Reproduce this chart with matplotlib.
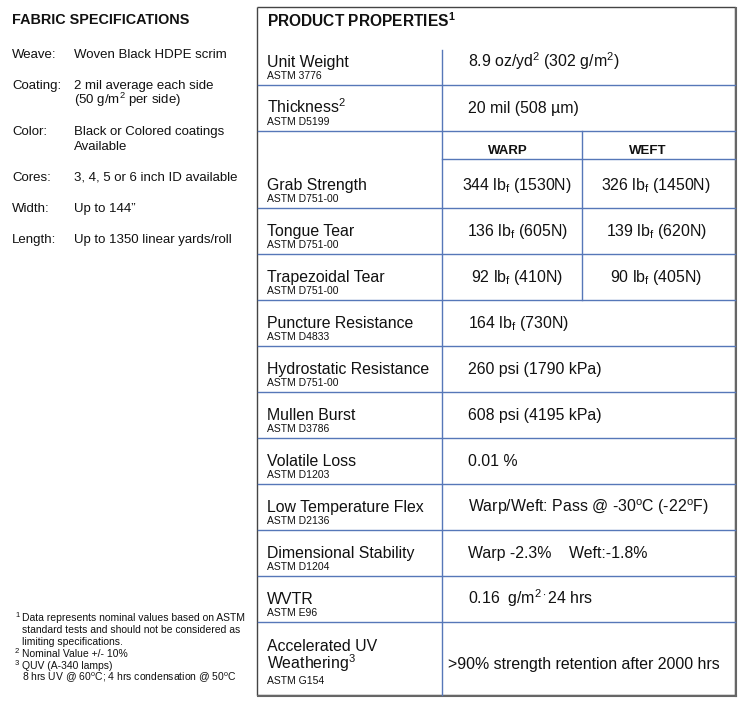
import matplotlib
matplotlib.use('Agg')
import matplotlib.pyplot as plt

# spec sheet: fabric specs on the left, product properties table on the right

plt.rcParams['font.family'] = ['Liberation Sans', 'DejaVu Sans']
plt.rcParams['mathtext.fontset'] = 'custom'
plt.rcParams['mathtext.rm'] = 'Liberation Sans'
plt.rcParams['mathtext.it'] = 'Liberation Sans:italic'
plt.rcParams['mathtext.bf'] = 'Liberation Sans:bold'

spec_labels = ["Weave:", "Coating:", "Color:", "Cores:", "Width:", "Length:"]
spec_values = [["Woven Black HDPE scrim"],
               ["2 mil average each side", "(50 g/m$^2$ per side)"],
               ["Black or Colored coatings", "Available"],
               ["3, 4, 5 or 6 inch ID available"],
               ["Up to 144\u201d"],
               ["Up to 1350 linear yards/roll"]]

footnote_marks = ["1", "", "", "2", "3", ""]
footnote_lines = ["Data represents nominal values based on ASTM",
                  "standard tests and should not be considered as",
                  "limiting specifications.",
                  "Nominal Value +/- 10%",
                  "QUV (A-340 lamps)",
                  r"8 hrs UV @ 60$^\mathrm{o}$C; 4 hrs condensation @ 50$^\mathrm{o}$C"]

prop_names = [["Unit Weight"], ["Thickness$^2$"], ["Grab Strength"], ["Tongue Tear"],
              ["Trapezoidal Tear"], ["Puncture Resistance"], ["Hydrostatic Resistance"],
              ["Mullen Burst"], ["Volatile Loss"], ["Low Temperature Flex"],
              ["Dimensional Stability"], ["WVTR"], ["Accelerated UV", "Weathering$^3$"]]
prop_methods = ["ASTM 3776", "ASTM D5199", "ASTM D751-00", "ASTM D751-00", "ASTM D751-00",
                "ASTM D4833", "ASTM D751-00", "ASTM D3786", "ASTM D1203", "ASTM D2136",
                "ASTM D1204", "ASTM E96", "ASTM G154"]
warp_values = {2: r"344 lb$_\mathrm{f}$ (1530N)", 3: r"136 lb$_\mathrm{f}$ (605N)",
               4: r"92 lb$_\mathrm{f}$ (410N)"}
weft_values = {2: r"326 lb$_\mathrm{f}$ (1450N)", 3: r"139 lb$_\mathrm{f}$ (620N)",
               4: r"90 lb$_\mathrm{f}$ (405N)"}
single_values = {0: "8.9 oz/yd$^2$ (302 g/m$^2$)",
                 1: "20 mil (508 \u00b5m)",
                 5: r"164 lb$_\mathrm{f}$ (730N)",
                 6: "260 psi (1790 kPa)",
                 7: "608 psi (4195 kPa)",
                 8: "0.01 %",
                 9: r"Warp/Weft: Pass @ -30$^\mathrm{o}$C (-22$^\mathrm{o}$F)",
                 10: "Warp -2.3%    Weft:-1.8%",
                 11: r"0.16  g/m$^{2\cdot}$24 hrs",
                 12: ">90% strength retention after 2000 hrs"}

# row bottoms (px) of the properties table
row_bottoms = [85, 131, 208, 254, 300, 346, 392, 438, 484, 530, 576, 622, 695]

BLUE = '#5677b8'
INK = '#111111'

fig = plt.figure(figsize=(7.46, 7.06), dpi=100)
ax = fig.add_axes([0, 0, 1, 1])
ax.set_xlim(0, 746)
ax.set_ylim(706, 0)
ax.axis('off')


def txt(x, yc, s, size, **kw):
    # place text by the middle of its cap height
    base = yc + 0.716 * size * 100 / 72 / 2
    ax.text(x, base, s, fontsize=size, va='baseline', color=INK, **kw)


# left column
txt(12, 19, "FABRIC SPECIFICATIONS", 10.4, fontweight='bold')
y = 53
for lab, vals in zip(spec_labels, spec_values):
    txt(12, y, lab, 9.5)
    for k, v in enumerate(vals):
        txt(74, y + 15 * k, v, 9.5)
    y += 31 + 15 * (len(vals) - 1)

for k, (m, line) in enumerate(zip(footnote_marks, footnote_lines)):
    yy = 617 + 12.1 * k
    if m:
        txt(15, yy - 3, m, 5.5)
    txt(22, yy, line, 7.5)

# right table frame
ax.plot([257, 735, 735], [7, 7, 695], color='#444444', lw=1.0, solid_capstyle='butt')
ax.plot([257, 257, 735], [7, 695, 695], color='#444444', lw=1.0, solid_capstyle='butt')
ax.plot([736, 736], [8, 696], color='#666666', lw=1.5)
ax.plot([258, 736], [696, 696], color='#666666', lw=1.5)

ax.plot([442, 442], [50, 695], color=BLUE, lw=1.0)
ax.plot([582, 582], [131, 300], color=BLUE, lw=1.0)
for yb in row_bottoms[:-1]:
    ax.plot([258, 735], [yb, yb], color=BLUE, lw=1.0)
ax.plot([442, 735], [159, 159], color=BLUE, lw=1.0)

txt(267, 21, r"PRODUCT PROPERTIES$^{\mathbf{1}}$", 11.2, fontweight='bold')
txt(508, 149, "WARP", 9.5, fontweight='bold', ha='center')
txt(648, 149, "WEFT", 9.5, fontweight='bold', ha='center')

for i, (names, method) in enumerate(zip(prop_names, prop_methods)):
    yb = row_bottoms[i]
    if len(names) == 1:
        name_ys = [yb - 23.5]
        method_y = yb - 10
    else:
        name_ys = [yb - 50, yb - 32]
        method_y = yb - 15
    for n, ny in zip(names, name_ys):
        txt(267, ny, n, 11.4)
    txt(267, method_y, method, 7.5)
    vy = name_ys[-1]
    if i in warp_values:
        txt(517, vy, warp_values[i], 11.4, ha='center')
        txt(656, vy, weft_values[i], 11.4, ha='center')
    elif i == 12:
        txt(448, vy, single_values[i], 11.4)
    else:
        txt(468, vy, single_values[i], 11.4)

fig.savefig('out.png', dpi=100)
